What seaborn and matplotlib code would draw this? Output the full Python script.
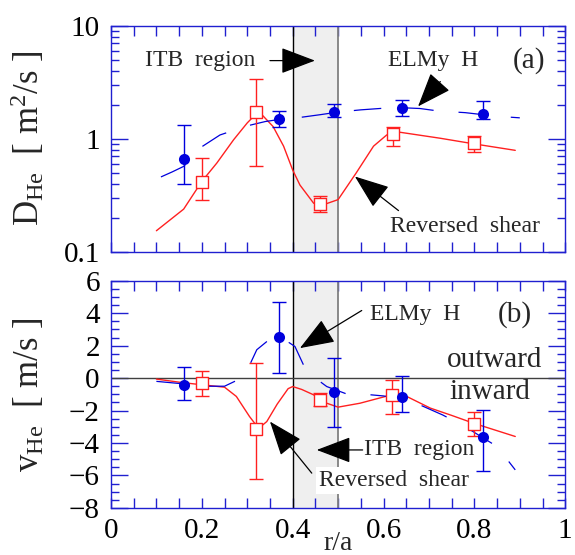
import numpy as np
import pandas as pd
import matplotlib
matplotlib.use('Agg')
import matplotlib.pyplot as plt
import seaborn as sns
from matplotlib.ticker import MultipleLocator, LogLocator, FuncFormatter, NullFormatter

# ---- data ----
# (a) diffusion coefficient, model curves
elmy_D_x = [0.11, 0.135, 0.16, 0.20, 0.24, 0.30, 0.34, 0.38, 0.42, 0.46, 0.50, 0.55, 0.60, 0.64, 0.68, 0.72, 0.78, 0.82, 0.86, 0.90]
elmy_D_y = [0.46, 0.51, 0.57, 0.85, 1.08, 1.30, 1.42, 1.50, 1.55, 1.63, 1.72, 1.80, 1.86, 1.88, 1.85, 1.76, 1.70, 1.63, 1.57, 1.53]
rs_D_x = [0.10, 0.16, 0.20, 0.233, 0.27, 0.30, 0.325, 0.357, 0.38, 0.40, 0.416, 0.446, 0.46, 0.50, 0.54, 0.578, 0.607, 0.637, 0.725, 0.80, 0.89]
rs_D_y = [0.154, 0.239, 0.42, 0.61, 0.98, 1.38, 1.75, 1.28, 0.86, 0.53, 0.39, 0.27, 0.255, 0.29, 0.50, 0.86, 1.08, 1.14, 1.01, 0.90, 0.79]

# (a) measured points with error bars
elmy_Dp_x = [0.160, 0.369, 0.490, 0.640, 0.818]
elmy_Dp_y = [0.665, 1.49, 1.72, 1.87, 1.65]
elmy_Dp_lo = [0.40, 1.28, 1.56, 1.60, 1.49]
elmy_Dp_hi = [1.31, 1.75, 2.04, 2.20, 2.17]
rs_Dp_x = [0.200, 0.319, 0.460, 0.620, 0.800]
rs_Dp_y = [0.419, 1.72, 0.266, 1.10, 0.916]
rs_Dp_lo = [0.29, 0.58, 0.227, 0.855, 0.77]
rs_Dp_hi = [0.67, 3.38, 0.309, 1.27, 1.06]

# (b) convection velocity, model curves
elmy_v_x = [0.10, 0.15, 0.20, 0.25, 0.28, 0.297, 0.321, 0.345, 0.37, 0.405, 0.427, 0.45, 0.475, 0.52, 0.556, 0.60, 0.64, 0.68, 0.73, 0.78, 0.82, 0.85, 0.89]
elmy_v_y = [-0.2, -0.33, -0.5, -0.5, -0.1, 0.31, 1.75, 2.3, 2.6, 1.95, 0.62, 0.0, -0.52, -0.99, -0.99, -1.1, -1.3, -1.65, -2.27, -3.0, -3.7, -4.22, -5.66]
rs_v_x = [0.10, 0.155, 0.20, 0.25, 0.276, 0.305, 0.325, 0.343, 0.366, 0.39, 0.40, 0.42, 0.446, 0.47, 0.50, 0.548, 0.618, 0.651, 0.703, 0.75, 0.798, 0.89]
rs_v_y = [-0.06, -0.27, -0.41, -0.56, -1.13, -2.37, -3.1, -2.68, -1.6, -0.65, -0.52, -0.7, -1.03, -1.5, -1.79, -1.55, -1.03, -1.13, -1.85, -2.3, -2.78, -3.6]

# (b) measured points with error bars
elmy_vp_x = [0.160, 0.369, 0.490, 0.640, 0.819]
elmy_vp_y = [-0.4, 2.55, -0.86, -1.15, -3.64]
elmy_vp_lo = [-1.36, 0.31, -3.02, -2.08, -5.70]
elmy_vp_hi = [0.66, 4.71, 1.23, 0.16, -1.96]
rs_vp_x = [0.200, 0.319, 0.460, 0.618, 0.800]
rs_vp_y = [-0.31, -3.15, -1.38, -1.07, -2.82]
rs_vp_lo = [-1.13, -6.21, -1.75, -2.22, -3.54]
rs_vp_hi = [0.41, 0.92, -0.93, -0.1, -2.1]

itb_lo, itb_hi = 0.4, 0.5

sns.set_theme(style='ticks')
plt.rcParams['font.family'] = ['Liberation Serif', 'DejaVu Serif']
plt.rcParams['mathtext.fontset'] = 'custom'
plt.rcParams['mathtext.rm'] = 'Liberation Serif'
plt.rcParams['mathtext.it'] = 'Liberation Serif:italic'

BLUE = '#0000dd'
RED = '#ff2020'
AX_BLUE = '#2020d0'

fig = plt.figure(figsize=(5.75, 5.55), dpi=100)
ax1 = fig.add_axes([0.193, 0.546, 0.790, 0.408])
ax2 = fig.add_axes([0.193, 0.085, 0.790, 0.409])

arrow_kw = dict(arrowstyle='-|>,head_length=1.45,head_width=0.55', color='black',
                lw=0.9, mutation_scale=15, shrinkA=0, shrinkB=0)


def draw_panel(ax, lx, ly, lrx, lry, px, py, plo, phi, rx, ry, rlo, rhi):
    ax.axvspan(itb_lo, itb_hi, color='#efefef', zorder=0, lw=0)
    ax.axvline(itb_lo, color='black', lw=1, zorder=1)
    ax.axvline(itb_hi, color='#808080', lw=1.3, zorder=1)

    sns.lineplot(x=lrx, y=lry, ax=ax, color=RED, lw=1, sort=False, zorder=2)
    sns.lineplot(x=lx, y=ly, ax=ax, color=BLUE, lw=0.9, sort=False, zorder=2,
                 linestyle=(0, (22, 20)))

    py_ = np.array(py)
    ry_ = np.array(ry)
    ax.errorbar(px, py, yerr=[py_ - np.array(plo), np.array(phi) - py_], fmt='none',
                ecolor=BLUE, elinewidth=1, capsize=5, capthick=1, zorder=3)
    ax.errorbar(rx, ry, yerr=[ry_ - np.array(rlo), np.array(rhi) - ry_], fmt='none',
                ecolor=RED, elinewidth=1, capsize=5, capthick=1, zorder=3)
    sns.scatterplot(x=rx, y=ry, ax=ax, marker='s', s=64, facecolor='white',
                    edgecolor=RED, linewidth=1, zorder=4)
    sns.scatterplot(x=px, y=py, ax=ax, marker='o', s=64, color=BLUE,
                    edgecolor=BLUE, linewidth=0, zorder=5)

    for sp in ax.spines.values():
        sp.set_color(AX_BLUE)
        sp.set_linewidth(1)
        sp.set_visible(True)
    ax.set_xlim(0, 1)
    ax.xaxis.set_major_locator(MultipleLocator(0.2))
    ax.xaxis.set_minor_locator(MultipleLocator(0.05))
    ax.tick_params(which='both', direction='in', top=True, right=True,
                   color=AX_BLUE, width=1, labelsize=21, labelcolor='black')
    ax.tick_params(axis='x', which='both', length=7, pad=7)
    ax.tick_params(axis='y', which='major', length=12, pad=8)
    ax.tick_params(axis='y', which='minor', length=6)
    ax.set_xlabel('')
    ax.set_ylabel('')


draw_panel(ax1, elmy_D_x, elmy_D_y, rs_D_x, rs_D_y,
           elmy_Dp_x, elmy_Dp_y, elmy_Dp_lo, elmy_Dp_hi,
           rs_Dp_x, rs_Dp_y, rs_Dp_lo, rs_Dp_hi)
draw_panel(ax2, elmy_v_x, elmy_v_y, rs_v_x, rs_v_y,
           elmy_vp_x, elmy_vp_y, elmy_vp_lo, elmy_vp_hi,
           rs_vp_x, rs_vp_y, rs_vp_lo, rs_vp_hi)

# panel (a) axes
ax1.set_yscale('log')
ax1.set_ylim(0.1, 10)
ax1.yaxis.set_major_locator(LogLocator(base=10, numticks=5))
ax1.yaxis.set_minor_locator(LogLocator(base=10, subs=np.arange(2, 10), numticks=20))
ax1.yaxis.set_major_formatter(FuncFormatter(lambda v, p: '%g' % v))
ax1.yaxis.set_minor_formatter(NullFormatter())
ax1.tick_params(axis='x', labelbottom=False)
ax1.set_ylabel(r'D$_{\mathrm{He}}$  [ m$^{2}$/s ]', fontsize=25)
ax1.yaxis.set_label_coords(-0.14, 0.5)

# panel (b) axes
ax2.set_ylim(-8, 6)
ax2.yaxis.set_major_locator(MultipleLocator(2))
ax2.yaxis.set_minor_locator(MultipleLocator(0.5))
ax2.xaxis.set_major_formatter(FuncFormatter(lambda v, p: '%g' % v))
ax2.axhline(0, color='#404040', lw=1, zorder=1.5)
ax2.set_ylabel(r'v$_{\mathrm{He}}$  [ m/s ]', fontsize=25)
ax2.yaxis.set_label_coords(-0.14, 0.5)
ax2.set_xlabel('r/a', fontsize=20)
ax2.xaxis.set_label_coords(0.5, -0.10)

# annotations (a)
ax1.text(0.075, 4.9, 'ITB  region', fontsize=17, va='center', ha='left')
ax1.annotate('', xy=(0.449, 4.9), xytext=(0.35, 4.9), arrowprops=arrow_kw, zorder=6)
ax1.text(0.61, 4.9, 'ELMy  H', fontsize=17, va='center', ha='left')
ax1.text(0.885, 4.9, '(a)', fontsize=21, va='center', ha='left')
ax1.annotate('', xy=(0.676, 1.93), xytext=(0.725, 3.2), arrowprops=arrow_kw, zorder=6)
ax1.text(0.615, 0.168, 'Reversed  shear', fontsize=17, va='center', ha='left')
ax1.annotate('', xy=(0.537, 0.464), xytext=(0.633, 0.232), arrowprops=arrow_kw, zorder=6)

# annotations (b)
ax2.text(0.571, 3.9, 'ELMy  H', fontsize=17, va='center', ha='left')
ax2.text(0.852, 3.9, '(b)', fontsize=21, va='center', ha='left')
ax2.annotate('', xy=(0.416, 1.85), xytext=(0.552, 4.17), arrowprops=arrow_kw, zorder=6)
ax2.text(0.739, 1.13, 'outward', fontsize=21, va='center', ha='left')
ax2.text(0.746, -0.83, 'inward', fontsize=21, va='center', ha='left')
ax2.text(0.556, -4.43, 'ITB  region', fontsize=17, va='center', ha='left')
ax2.annotate('', xy=(0.453, -4.43), xytext=(0.554, -4.43), arrowprops=arrow_kw, zorder=6)
ax2.annotate('', xy=(0.350, -2.68), xytext=(0.442, -5.86), arrowprops=arrow_kw, zorder=6)
ax2.text(0.457, -6.32, 'Reversed  shear', fontsize=17, va='center', ha='left', zorder=7,
         bbox=dict(facecolor='white', edgecolor='none', pad=2))

fig.savefig('out.png', dpi=100)
